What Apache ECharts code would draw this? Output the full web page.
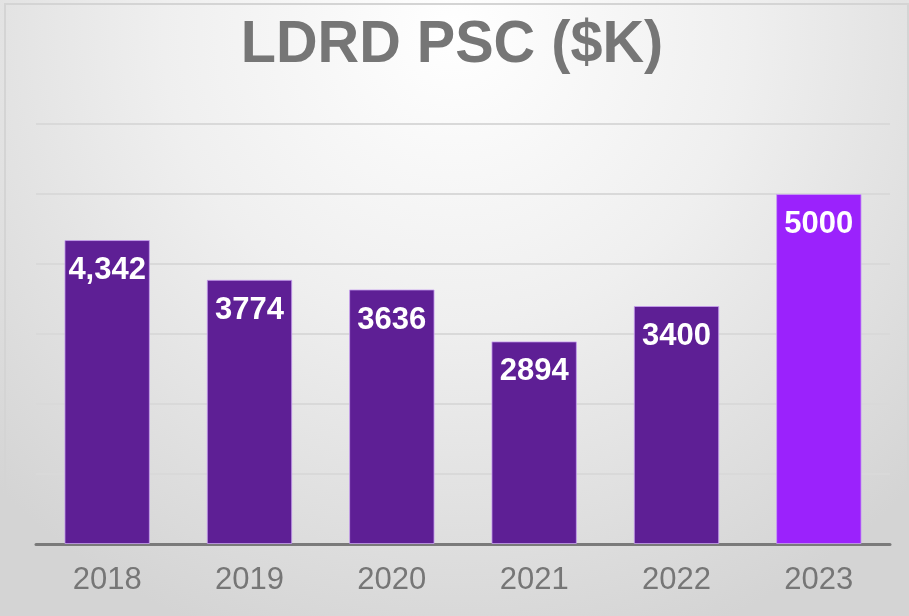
<!DOCTYPE html>
<html>
<head>
<meta charset="utf-8">
<script src="https://cdn.jsdelivr.net/npm/echarts@6/dist/echarts.min.js"></script>
<style>
html, body { margin: 0; padding: 0; background: #ffffff; }
#chart { width: 909px; height: 616px; }
</style>
</head>
<body>
<div id="chart"></div>
<script>
// data
var years = ['2018', '2019', '2020', '2021', '2022', '2023'];
var psc = [4342, 3774, 3636, 2894, 3400, 5000];
var pscLabels = ['4,342', '3774', '3636', '2894', '3400', '5000'];
var barColors = ['#5e1f95', '#5e1f95', '#5e1f95', '#5e1f95', '#5e1f95', '#9b22fc'];

var chart = echarts.init(document.getElementById('chart'));

var seriesData = psc.map(function (v, i) {
    return {
        value: v,
        itemStyle: { color: barColors[i] },
        label: { formatter: pscLabels[i] }
    };
});

var option = {
    backgroundColor: {
        type: 'radial', x: 0.5, y: 0.05, r: 1.05,
        colorStops: [
            { offset: 0, color: '#ffffff' },
            { offset: 0.45, color: '#efefef' },
            { offset: 1, color: '#d4d4d4' }
        ]
    },
    graphic: [{
        type: 'rect',
        shape: { x: 5, y: 4, width: 903, height: 620 },
        style: { fill: 'transparent', stroke: '#d4d4d4', lineWidth: 2 },
        silent: true
    }, {
        // title, slightly condensed like the original
        type: 'text',
        x: 452,
        y: 45,
        scaleX: 0.96,
        style: {
            text: 'LDRD PSC ($K)',
            fontFamily: 'Liberation Sans',
            fontSize: 60,
            fontWeight: 'bold',
            fill: '#767676',
            textAlign: 'center',
            textVerticalAlign: 'middle'
        },
        silent: true
    }],
    grid: { left: 36, right: 19, top: 124, bottom: 72, containLabel: false },
    xAxis: {
        type: 'category',
        data: years,
        axisLine: { lineStyle: { color: '#7a7a7a', width: 3 } },
        axisTick: { show: false },
        axisLabel: {
            fontFamily: 'Liberation Sans',
            fontSize: 31,
            color: '#767676',
            margin: 21
        }
    },
    yAxis: {
        type: 'value',
        min: 0,
        max: 6000,
        interval: 1000,
        axisLabel: { show: false },
        axisLine: { show: false },
        axisTick: { show: false },
        splitLine: { lineStyle: { color: '#d9d9d9', width: 2 } }
    },
    series: [{
        type: 'bar',
        data: seriesData,
        barWidth: '60%',
        itemStyle: { borderColor: 'rgba(200,160,240,0.8)', borderWidth: 1 },
        label: {
            show: true,
            position: 'insideTop',
            distance: 15,
            fontFamily: 'Liberation Sans',
            fontSize: 31,
            fontWeight: 'bold',
            color: '#ffffff'
        }
    }]
};

if (option && typeof option === "object") {
    chart.setOption(option, true);
}
</script>
</body>
</html>
